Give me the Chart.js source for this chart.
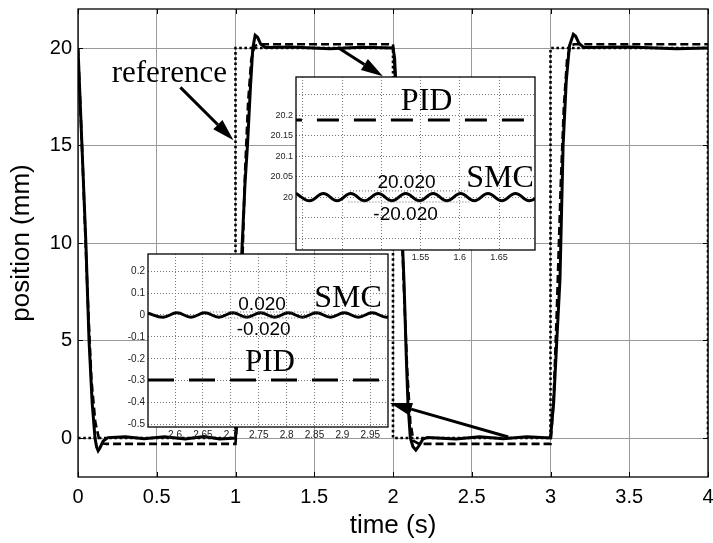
<!DOCTYPE html>
<html>
<head>
<meta charset="utf-8">
<script src="https://cdn.jsdelivr.net/npm/chart.js@4.4.1/dist/chart.umd.min.js"></script>
<style>
  body { margin: 0; background: #fff; }
  #wrap { position: relative; width: 713px; height: 543px; overflow: hidden; }
  #wrap canvas { position: absolute; }
</style>
</head>
<body>
<div id="wrap">
  <canvas id="mainChart" width="713" height="543" style="left:0;top:0"></canvas>
  <canvas id="insetTop" width="277" height="191" style="left:260px;top:75px"></canvas>
  <canvas id="insetLow" width="272" height="191" style="left:118px;top:252px"></canvas>
</div>
<script>
// ---- main plot data (time s, position mm) ----
const refT = [0, 1, 1, 2, 2, 3, 3, 4, 4];
const refY = [0, 0, 20, 20, 0, 0, 20, 20, 0];

const smcT = [0, 0.025, 0.05, 0.07, 0.09, 0.108, 0.118, 0.128, 0.14, 0.16, 0.19, 0.3, 0.42, 0.55, 0.68, 0.8, 0.9, 1.0,
  1.02, 1.04, 1.06, 1.076, 1.095, 1.11, 1.125, 1.14, 1.16, 1.19, 1.35, 1.6, 1.8, 2.0,
  2.01, 2.03, 2.05, 2.07, 2.085, 2.095, 2.11, 2.127, 2.145, 2.165, 2.19, 2.22, 2.4, 2.55, 2.7, 2.85, 3.0,
  3.02, 3.04, 3.06, 3.08, 3.1, 3.12, 3.145, 3.16, 3.18, 3.21, 3.5, 3.8, 4.0];
const smcY = [20, 15, 10, 5, 1.8, 0, -0.45, -0.65, -0.5, -0.15, 0.02, 0.06, -0.04, 0.07, -0.05, 0.08, -0.05, 0,
  2.5, 9.5, 13, 15, 18, 20, 20.65, 20.55, 20.2, 20.02, 20.05, 19.96, 20.04, 20,
  19.5, 16, 12, 8, 4, 1.8, 0, -0.45, -0.62, -0.4, -0.05, 0.03, -0.05, 0.06, -0.04, 0.07, 0,
  1.8, 5, 8.1, 15, 18.3, 20.1, 20.7, 20.6, 20.25, 20.03, 20.05, 19.96, 20];

const pidT = [0, 0.03, 0.06, 0.085, 0.11, 0.135, 0.16, 0.18, 1.0,
  1.02, 1.04, 1.06, 1.08, 1.1, 1.12, 1.145, 2.0,
  2.02, 2.05, 2.07, 2.09, 2.11, 2.13, 2.16, 2.19, 3.0,
  3.02, 3.04, 3.065, 3.085, 3.105, 3.125, 3.15, 4.0];
const pidY = [20, 14, 7.5, 3, 0.8, -0.1, -0.28, -0.3, -0.3,
  2, 8, 13.5, 17.2, 19.4, 20.1, 20.19, 20.19,
  18, 12, 7.5, 3.5, 0.8, -0.15, -0.28, -0.3, -0.3,
  2, 6.5, 13, 17, 19.4, 20.1, 20.19, 20.19];

const mainXTicks = [0, 0.5, 1, 1.5, 2, 2.5, 3, 3.5, 4];
const mainYTicks = [0, 5, 10, 15, 20];

// ---- upper inset (zoom on 20 mm plateau) ----
const topSmcT = [1.391, 1.4085, 1.426, 1.4435, 1.461, 1.4785, 1.496, 1.5135, 1.531, 1.5485,
  1.566, 1.5835, 1.601, 1.6185, 1.636, 1.6535, 1.671, 1.6885, 1.706];
const topSmcY = [20.009, 19.991, 20.009, 19.991, 20.009, 19.991, 20.009, 19.991, 20.009, 19.991,
  20.009, 19.991, 20.009, 19.991, 20.009, 19.991, 20.009, 19.991, 20.009];
const topPidT = [1.391, 1.7];
const topPidY = [20.188, 20.188];
const topBandHiT = [1.46, 1.612];
const topBandHiY = [20.015, 20.015];
const topBandLoT = [1.458, 1.612];
const topBandLoY = [19.988, 19.988];
const topXTicks = [1.4, 1.45, 1.5, 1.55, 1.6, 1.65];
const topYTicks = [19.9, 19.95, 20, 20.05, 20.1, 20.15, 20.2, 20.25];
const topYLabelled = [20, 20.05, 20.1, 20.15, 20.2];

// ---- lower inset (zoom on 0 mm plateau) ----
const lowSmcT = [2.5516, 2.5785, 2.6035, 2.6285, 2.6535, 2.6785, 2.7035, 2.7285, 2.7535, 2.7785,
  2.8035, 2.8285, 2.8535, 2.8785, 2.9035, 2.9285, 2.9535, 2.9785, 3.0035];
const lowSmcY = [0.008, -0.01, 0.01, -0.01, 0.01, -0.01, 0.01, -0.01, 0.01, -0.01,
  0.01, -0.01, 0.01, -0.01, 0.01, -0.01, 0.01, -0.01, 0.01];
const lowPidT = [2.5516, 2.99];
const lowPidY = [-0.297, -0.297];
const lowBandHiT = [2.663, 2.872];
const lowBandHiY = [0.0137, 0.0137];
const lowBandLoT = [2.69, 2.86];
const lowBandLoY = [-0.0137, -0.0137];
const lowXTicks = [2.6, 2.65, 2.7, 2.75, 2.8, 2.85, 2.9, 2.95];
const lowYTicks = [-0.5, -0.4, -0.3, -0.2, -0.1, 0, 0.1, 0.2];

const SANS = '"Liberation Sans", Arial, sans-serif';
const SERIF = '"Liberation Serif", "Times New Roman", serif';

const zip = (xs, ys) => xs.map((v, i) => ({ x: v, y: ys[i] }));

function drawArrow(ctx, x0, y0, x1, y1) {
  const ang = Math.atan2(y1 - y0, x1 - x0);
  const len = 22, half = 6.5;
  const bx = x1 - len * Math.cos(ang), by = y1 - len * Math.sin(ang);
  ctx.beginPath();
  ctx.moveTo(x0, y0);
  ctx.lineTo(bx, by);
  ctx.lineWidth = 3;
  ctx.strokeStyle = '#000';
  ctx.stroke();
  ctx.beginPath();
  ctx.moveTo(x1, y1);
  ctx.lineTo(bx + half * Math.sin(ang), by - half * Math.cos(ang));
  ctx.lineTo(bx - half * Math.sin(ang), by + half * Math.cos(ang));
  ctx.closePath();
  ctx.fillStyle = '#000';
  ctx.fill();
}

// text labels and arrows placed in data units of the chart they belong to
function notesPlugin(id, notes, arrows) {
  return {
    id: id,
    afterDatasetsDraw(chart) {
      const { ctx, scales } = chart;
      const sx = scales.x, sy = scales.y;
      ctx.save();
      ctx.fillStyle = '#000';
      ctx.textAlign = 'center';
      ctx.textBaseline = 'alphabetic';
      notes.forEach(n => {
        ctx.font = n.font;
        ctx.fillText(n.text, sx.getPixelForValue(n.x), sy.getPixelForValue(n.y));
      });
      arrows.forEach(a => {
        drawArrow(ctx, sx.getPixelForValue(a.x0), sy.getPixelForValue(a.y0),
          sx.getPixelForValue(a.x1), sy.getPixelForValue(a.y1));
      });
      ctx.restore();
    }
  };
}

// white plot area + black frame (and inward ticks on the main axes)
function framePlugin(id, inwardTicks) {
  return {
    id: id,
    beforeDraw(chart) {
      const a = chart.chartArea, ctx = chart.ctx;
      ctx.save();
      ctx.fillStyle = '#fff';
      ctx.fillRect(a.left, a.top, a.right - a.left, a.bottom - a.top);
      ctx.restore();
    },
    afterDraw(chart) {
      const a = chart.chartArea, ctx = chart.ctx;
      ctx.save();
      ctx.strokeStyle = '#000';
      ctx.lineWidth = 1.3;
      ctx.strokeRect(a.left, a.top, a.right - a.left, a.bottom - a.top);
      if (inwardTicks) {
        ctx.lineWidth = 1;
        ctx.beginPath();
        chart.scales.x.ticks.forEach(t => {
          const px = Math.round(chart.scales.x.getPixelForValue(t.value)) + 0.5;
          ctx.moveTo(px, a.top); ctx.lineTo(px, a.top + 5);
          ctx.moveTo(px, a.bottom); ctx.lineTo(px, a.bottom - 5);
        });
        chart.scales.y.ticks.forEach(t => {
          const py = Math.round(chart.scales.y.getPixelForValue(t.value)) + 0.5;
          ctx.moveTo(a.left, py); ctx.lineTo(a.left + 5, py);
          ctx.moveTo(a.right, py); ctx.lineTo(a.right - 5, py);
        });
        ctx.stroke();
      }
      ctx.restore();
    }
  };
}

const fixTicks = vals => scale => { scale.ticks = vals.map(v => ({ value: v })); };
// fixed axis box size, and no extra room for overhanging labels
const fixSize = (prop, size) => scale => {
  scale[prop] = size;
  scale.paddingTop = 0; scale.paddingBottom = 0;
  scale.paddingLeft = 0; scale.paddingRight = 0;
};

const baseOpts = {
  responsive: false,
  animation: false,
  events: [],
  plugins: { legend: { display: false }, tooltip: { enabled: false } },
  elements: { point: { radius: 0 } }
};

// ---------------- main chart ----------------
new Chart(document.getElementById('mainChart'), {
  type: 'line',
  data: {
    datasets: [
      { label: 'reference', data: zip(refT, refY), borderColor: '#000', borderWidth: 2.6,
        borderDash: [2.6, 2.6], tension: 0, order: 3 },
      { label: 'SMC', data: zip(smcT, smcY), borderColor: '#000', borderWidth: 3, tension: 0, order: 2 },
      { label: 'PID', data: zip(pidT, pidY), borderColor: '#000', borderWidth: 2.6,
        borderDash: [8, 4], tension: 0, order: 1 }
    ]
  },
  options: Object.assign({}, baseOpts, {
    layout: { autoPadding: false, padding: { top: 9, right: 5, left: 0, bottom: 0 } },
    scales: {
      x: {
        type: 'linear', min: 0, max: 4,
        afterBuildTicks: fixTicks(mainXTicks),
        afterFit: fixSize('height', 66),
        grid: { color: '#9a9a9a', lineWidth: 1, drawTicks: false },
        border: { display: false },
        ticks: { color: '#000', font: { family: SANS, size: 20 }, padding: 8, maxRotation: 0,
          callback: v => String(v) },
        title: { display: true, text: 'time (s)', color: '#000',
          font: { family: SANS, size: 26 }, padding: { top: 0, bottom: 2 } }
      },
      y: {
        type: 'linear', min: -2, max: 22,
        afterBuildTicks: fixTicks(mainYTicks),
        afterFit: fixSize('width', 78),
        grid: { color: '#9a9a9a', lineWidth: 1, drawTicks: false },
        border: { display: false },
        ticks: { color: '#000', font: { family: SANS, size: 20 }, padding: 6 },
        title: { display: true, text: 'position (mm)', color: '#000',
          font: { family: SANS, size: 26 }, padding: { top: 6, bottom: 0 } }
      }
    }
  }),
  plugins: [
    framePlugin('mainFrame', true),
    notesPlugin('mainNotes',
      [{ text: 'reference', x: 0.58, y: 18.24, font: '31px ' + SERIF }],
      [
        { x0: 0.65, y0: 17.98, x1: 0.987, y1: 15.27 },
        { x0: 1.65, y0: 20.03, x1: 1.936, y1: 18.55 },
        { x0: 2.732, y0: 0.05, x1: 1.981, y1: 1.79 }
      ])
  ]
});

// ---------------- inset options ----------------
function insetScales(xr, xTicks, yr, yTicks, yLabelled, yWidth, fontSize) {
  const gridOpts = { color: '#777', lineWidth: 1, drawTicks: false };
  const borderOpts = { display: false, dash: [1, 2] };
  return {
    x: {
      type: 'linear', min: xr[0], max: xr[1],
      afterBuildTicks: fixTicks(xTicks),
      afterFit: fixSize('height', 16),
      grid: gridOpts, border: borderOpts,
      ticks: { color: '#222', font: { family: SANS, size: fontSize }, padding: 2, maxRotation: 0,
        callback: v => String(Math.round(v * 1000) / 1000) }
    },
    y: {
      type: 'linear', min: yr[0], max: yr[1],
      afterBuildTicks: fixTicks(yTicks),
      afterFit: fixSize('width', yWidth),
      grid: gridOpts, border: borderOpts,
      ticks: { color: '#222', font: { family: SANS, size: fontSize }, padding: 3,
        callback: v => {
          const r = Math.round(v * 1000) / 1000;
          return yLabelled.some(l => Math.abs(l - r) < 1e-6) ? String(r) : '';
        } }
    }
  };
}

const bandStyle = { borderColor: '#666', borderWidth: 1, borderDash: [1, 2], tension: 0 };

// upper inset
new Chart(document.getElementById('insetTop'), {
  type: 'line',
  data: {
    datasets: [
      Object.assign({ data: zip(topBandHiT, topBandHiY) }, bandStyle),
      Object.assign({ data: zip(topBandLoT, topBandLoY) }, bandStyle),
      { data: zip(topSmcT, topSmcY), borderColor: '#000', borderWidth: 3, tension: 0.4 },
      { data: zip(topPidT, topPidY), borderColor: '#000', borderWidth: 3,
        borderDash: [22, 15], borderDashOffset: 16, tension: 0 }
    ]
  },
  options: Object.assign({}, baseOpts, {
    layout: { autoPadding: false, padding: { top: 2, right: 2, left: 0, bottom: 0 } },
    scales: insetScales([1.3911, 1.6959], topXTicks, [19.871, 20.2927], topYTicks, topYLabelled, 36, 9)
  }),
  plugins: [
    framePlugin('topFrame', false),
    notesPlugin('topNotes', [
      { text: 'PID', x: 1.5577, y: 20.212, font: '32px ' + SERIF },
      { text: 'SMC', x: 1.6513, y: 20.0244, font: '32px ' + SERIF },
      { text: '20.020', x: 1.532, y: 20.022, font: '19px ' + SANS },
      { text: '-20.020', x: 1.5308, y: 19.944, font: '19px ' + SANS }
    ], [])
  ]
});

// lower inset
new Chart(document.getElementById('insetLow'), {
  type: 'line',
  data: {
    datasets: [
      Object.assign({ data: zip(lowBandHiT, lowBandHiY) }, bandStyle),
      Object.assign({ data: zip(lowBandLoT, lowBandLoY) }, bandStyle),
      { data: zip(lowSmcT, lowSmcY), borderColor: '#000', borderWidth: 3, tension: 0.4 },
      { data: zip(lowPidT, lowPidY), borderColor: '#000', borderWidth: 3,
        borderDash: [26, 15], tension: 0 }
    ]
  },
  options: Object.assign({}, baseOpts, {
    layout: { autoPadding: false, padding: { top: 2, right: 2, left: 0, bottom: 0 } },
    scales: insetScales([2.5516, 2.9817], lowXTicks, [-0.5114, 0.2785], lowYTicks, lowYTicks, 30, 10)
  }),
  plugins: [
    framePlugin('lowFrame', false),
    notesPlugin('lowNotes', [
      { text: '0.020', x: 2.756, y: 0.0228, font: '19px ' + SANS },
      { text: '-0.020', x: 2.759, y: -0.091, font: '19px ' + SANS },
      { text: 'SMC', x: 2.91, y: 0.0365, font: '32px ' + SERIF },
      { text: 'PID', x: 2.77, y: -0.256, font: '31px ' + SERIF }
    ], [])
  ]
});
</script>
</body>
</html>
